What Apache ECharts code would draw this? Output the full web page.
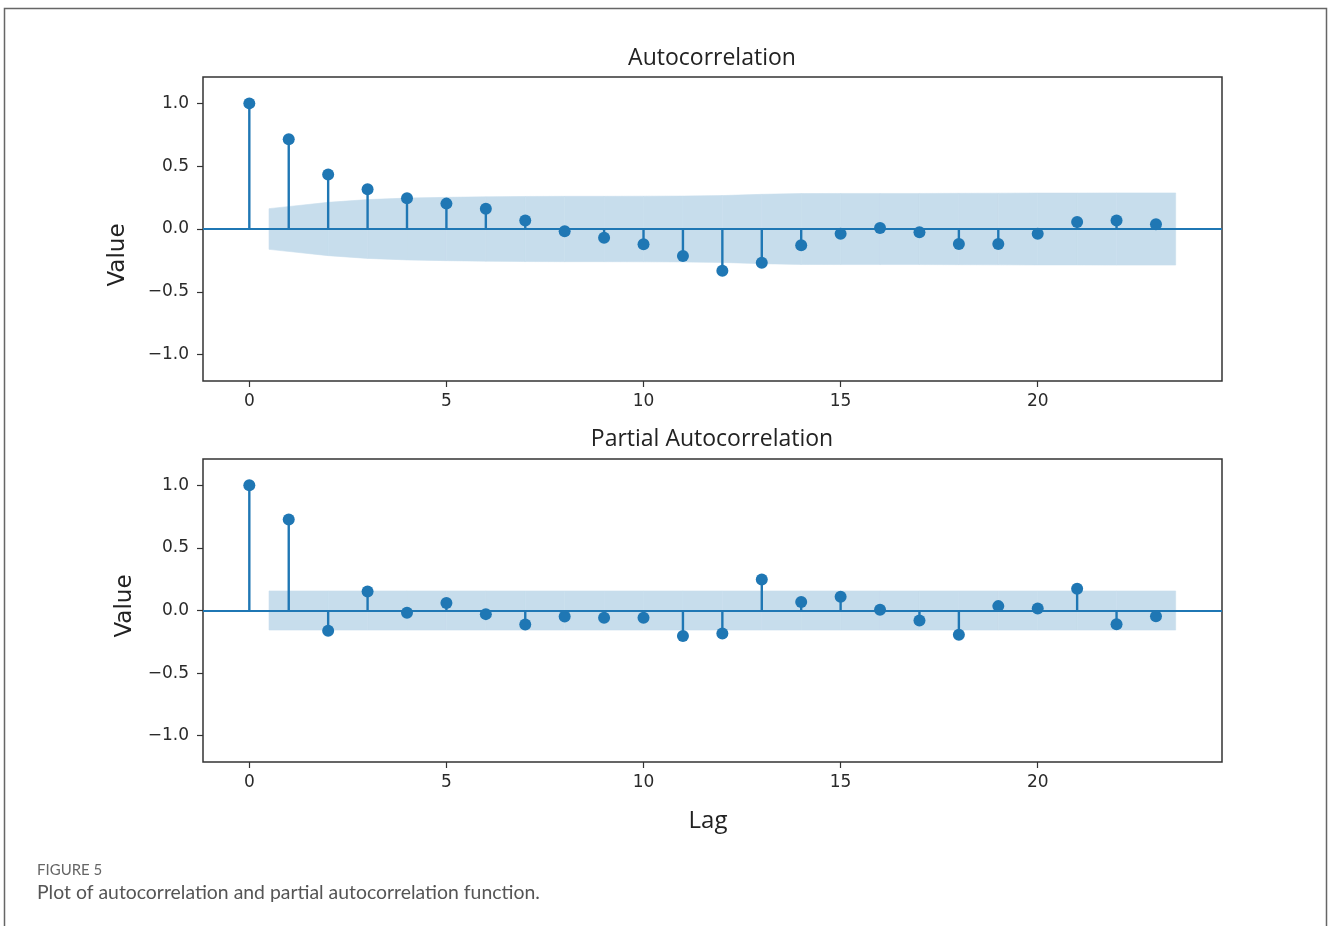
<!DOCTYPE html>
<html>
<head>
<meta charset="utf-8">
<title>ACF / PACF</title>
<script src="https://cdn.jsdelivr.net/npm/echarts@6/dist/echarts.min.js"></script>
<style>
    html, body {
        margin: 0;
        padding: 0;
        background: #fff;
    }
    #chart_acf {
        width: 1328px;
        height: 926px;
    }
</style>
</head>
<body>
<div id="chart_acf"></div>
<script>
// lags 0..23
const lags = [0, 1, 2, 3, 4, 5, 6, 7, 8, 9, 10, 11, 12, 13, 14, 15, 16, 17, 18, 19, 20, 21, 22, 23];

// autocorrelation
const acfValues = [1.0, 0.715, 0.434, 0.317, 0.245, 0.202, 0.162, 0.067, -0.018, -0.069, -0.122, -0.215,
    -0.332, -0.268, -0.130, -0.037, 0.008, -0.026, -0.119, -0.119, -0.037, 0.056, 0.067, 0.037];
// upper confidence bound for lags 1..23 (band is symmetric round 0)
const acfBand = [0.162, 0.212, 0.234, 0.246, 0.252, 0.256, 0.259, 0.260, 0.260, 0.261, 0.262, 0.266,
    0.276, 0.282, 0.283, 0.283, 0.283, 0.284, 0.285, 0.286, 0.286, 0.287, 0.287];

// partial autocorrelation
const pacfValues = [1.0, 0.726, -0.162, 0.152, -0.018, 0.059, -0.029, -0.112, -0.048, -0.058, -0.058, -0.204,
    -0.183, 0.247, 0.067, 0.109, 0.006, -0.080, -0.194, 0.035, 0.016, 0.173, -0.109, -0.045];
const pacfBand = [0.156, 0.156, 0.156, 0.156, 0.156, 0.156, 0.156, 0.156, 0.156, 0.156, 0.156, 0.156,
    0.156, 0.156, 0.156, 0.156, 0.156, 0.156, 0.156, 0.156, 0.156, 0.156, 0.156];

const xTicks = [0, 5, 10, 15, 20];
const yTicks = [-1, -0.5, 0, 0.5, 1];

const blue = "#1f77b4";
const bandColor = "rgb(199,221,236)"; // C0 at alpha .25 on white

// band x: first and last lag pushed out by half a lag (as statsmodels does)
function bandX(i, n) {
    let x = lags[i + 1];
    if (i === 0) x -= 0.5;
    if (i === n - 1) x += 0.5;
    return x;
}

// one trapezoid per pair of neighbouring band points
function bandSeries(band, idx) {
    const n = band.length;
    const data = [];
    for (let i = 0; i < n - 1; i++) {
        data.push([bandX(i, n), band[i], bandX(i + 1, n), band[i + 1]]);
    }
    return {
        type: "custom",
        xAxisIndex: idx,
        yAxisIndex: idx,
        silent: true,
        encode: { x: [0, 2], y: [1, 3] },
        data: data,
        z: 1,
        renderItem(params, api) {
            const x0 = api.value(0), u0 = api.value(1);
            const x1 = api.value(2), u1 = api.value(3);
            return {
                type: "polygon",
                shape: {
                    points: [
                        api.coord([x0, u0]),
                        api.coord([x1, u1]),
                        api.coord([x1, -u1]),
                        api.coord([x0, -u0]),
                    ],
                },
                style: { fill: bandColor, stroke: bandColor, lineWidth: 0.6 },
            };
        },
    };
}

function stemSeries(values, idx) {
    return [
        {
            type: "bar",
            xAxisIndex: idx,
            yAxisIndex: idx,
            barWidth: 2.4,
            itemStyle: { color: blue },
            data: values.map((v, i) => [lags[i], v]),
            markLine: {
                silent: true,
                symbol: "none",
                label: { show: false },
                lineStyle: { color: blue, width: 2.2, type: "solid" },
                data: [{ yAxis: 0 }],
            },
            z: 2,
        },
        {
            type: "scatter",
            xAxisIndex: idx,
            yAxisIndex: idx,
            symbolSize: 12,
            itemStyle: { color: blue, opacity: 1 },
            data: values.map((v, i) => [lags[i], v]),
            z: 3,
        },
    ];
}

function xAxis(idx) {
    return {
        gridIndex: idx,
        type: "value",
        min: -1.175,
        max: 24.675,
        splitLine: { show: false },
        axisLine: { show: false, onZero: false },
        axisTick: {
            show: true,
            customValues: xTicks,
            length: 6,
            lineStyle: { color: "#333", width: 1.2 },
        },
        axisLabel: {
            customValues: xTicks,
            margin: 12,
            fontFamily: "DejaVu Sans",
            fontSize: 17,
            color: "#2a2a2a",
        },
    };
}

function yAxis(idx) {
    return {
        gridIndex: idx,
        type: "value",
        min: -1.21,
        max: 1.21,
        splitLine: { show: false },
        axisLine: { show: false, onZero: false },
        axisTick: {
            show: true,
            customValues: yTicks,
            length: 6,
            lineStyle: { color: "#333", width: 1.2 },
        },
        axisLabel: {
            customValues: yTicks,
            margin: 14,
            fontFamily: "DejaVu Sans",
            fontSize: 17,
            color: "#2a2a2a",
            formatter: (v) => (v < 0 ? "\u2212" : "") + Math.abs(v).toFixed(1),
        },
    };
}

function label(text, x, y, size, font, rotate) {
    return {
        type: "text",
        x: x,
        y: y,
        rotation: rotate ? Math.PI / 2 : 0,
        silent: true,
        style: {
            text: text,
            fontFamily: font,
            fontSize: size,
            fill: "#222",
            align: "center",
            verticalAlign: "middle",
        },
    };
}

const myChart = echarts.init(document.getElementById("chart_acf"), null, { renderer: "canvas" });

const option = {
    backgroundColor: "#fff",
    animation: false,
    grid: [
        { left: 203, top: 77, width: 1019, height: 304, show: true, borderColor: "#333", borderWidth: 1.5, backgroundColor: "#fff" },
        { left: 203, top: 459, width: 1019, height: 303, show: true, borderColor: "#333", borderWidth: 1.5, backgroundColor: "#fff" },
    ],
    xAxis: [xAxis(0), xAxis(1)],
    yAxis: [yAxis(0), yAxis(1)],
    series: [
        bandSeries(acfBand, 0),
        ...stemSeries(acfValues, 0),
        bandSeries(pacfBand, 1),
        ...stemSeries(pacfValues, 1),
    ],
    graphic: [
        // figure frame
        {
            type: "rect",
            silent: true,
            shape: { x: 4.5, y: 8.5, width: 1322, height: 940 },
            style: { fill: "none", stroke: "#666", lineWidth: 1.5 },
            z: 100,
        },
        label("Autocorrelation", 712, 58, 23, "Open Sans"),
        label("Partial Autocorrelation", 712, 439, 23, "Open Sans"),
        label("Lag", 708, 821, 24, "Open Sans"),
        label("Value", 118, 255, 23, "DejaVu Sans", true),
        label("Value", 125, 606, 23, "DejaVu Sans", true),
        {
            type: "text",
            x: 37,
            y: 870,
            silent: true,
            style: { text: "FIGURE 5", fontFamily: "Lato", fontSize: 15, fill: "#666", verticalAlign: "middle" },
        },
        {
            type: "text",
            x: 37,
            y: 893,
            silent: true,
            style: { text: "Plot of autocorrelation and partial autocorrelation function.", fontFamily: "Lato", fontSize: 19.4, fill: "#555", verticalAlign: "middle" },
        },
    ],
};

myChart.setOption(option);
window.addEventListener("resize", () => {
    myChart.resize();
});
</script>
</body>
</html>
